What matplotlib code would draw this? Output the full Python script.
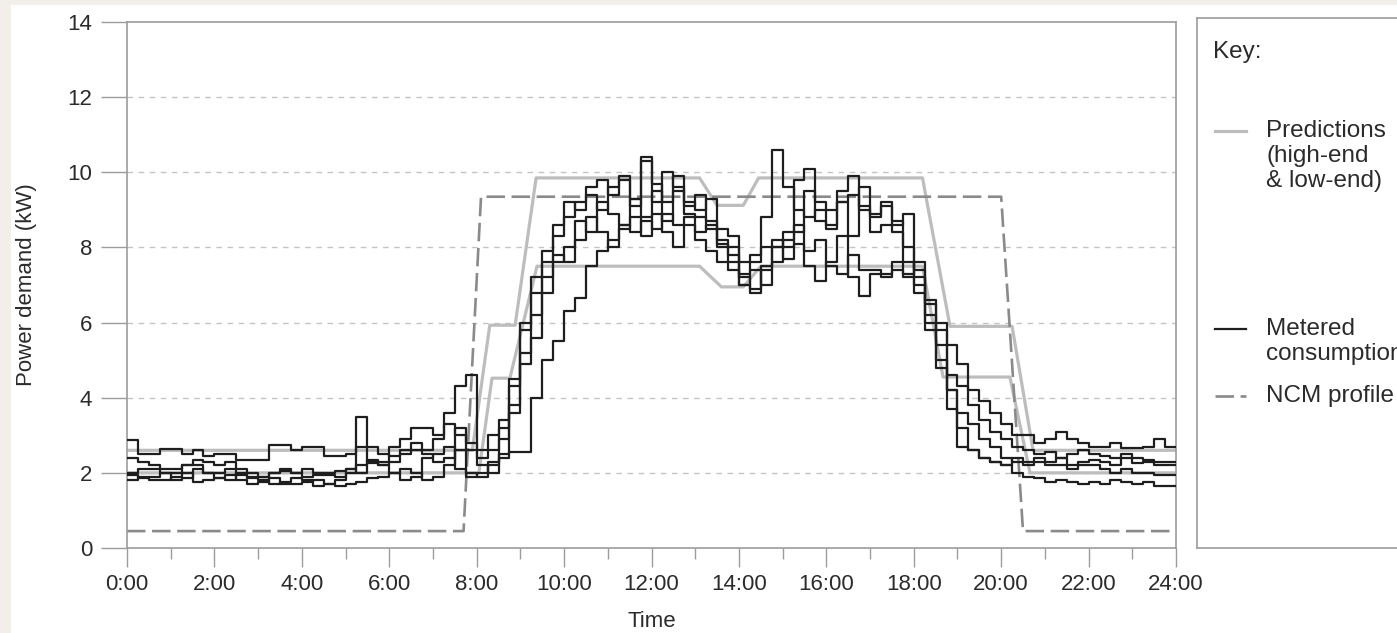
import numpy as np
import matplotlib
matplotlib.use("Agg")
import matplotlib.pyplot as plt
from matplotlib.patches import Rectangle

plt.rcParams['font.family'] = ['Liberation Sans', 'DejaVu Sans']

# ---------------- data ----------------
# metered consumption, 15-minute steps from 0:00 (4 values per hour)
metered_a = [2.87, 2.5, 2.5, 2.63, 2.63, 2.5, 2.6, 2.45, 2.5, 2.5, 2.34, 2.34,
             2.34, 2.74, 2.74, 2.6, 2.7, 2.7, 2.45, 2.45, 2.5, 2.7, 2.7, 2.5,
             2.45, 2.5, 2.6, 2.6, 2.9, 3.3, 3.0, 2.6, 2.4, 2.6, 3.2, 4.3,
             5.8, 6.8, 7.6, 8.3, 8.8, 9.2, 9.4, 9.0, 9.6, 9.8, 9.3, 10.4,
             9.7, 9.2, 9.5, 8.9, 8.8, 8.5, 8.1, 7.8, 7.3, 7.6, 8.8, 10.6,
             9.6, 9.0, 8.8, 9.0, 8.6, 9.2, 9.4, 9.0, 8.8, 9.1, 8.6, 8.9,
             7.2, 6.6, 6.0, 5.4, 4.9, 4.2, 3.9, 3.6, 3.3, 3.0, 3.0, 2.8,
             2.9, 3.1, 2.9, 2.8, 2.7, 2.7, 2.8, 2.65, 2.65, 2.7, 2.9, 2.7]
metered_b = [1.8, 1.9, 1.8, 1.8, 1.9, 2.0, 1.75, 1.8, 1.85, 1.95, 1.8, 1.7,
             1.75, 1.85, 1.7, 1.7, 1.75, 1.8, 1.7, 1.65, 1.7, 1.75, 1.85, 1.9,
             2.0, 2.1, 2.0, 1.8, 1.9, 2.2, 2.6, 1.9, 2.0, 2.3, 2.5, 2.55,
             2.55, 4.0, 5.0, 5.5, 6.3, 6.65, 7.5, 7.9, 8.2, 8.6, 8.4, 8.7,
             8.5, 8.9, 8.6, 8.8, 8.4, 8.6, 8.2, 8.0, 7.6, 7.8, 8.0, 8.0,
             7.7, 8.1, 7.9, 8.2, 7.5, 7.3, 7.8, 7.4, 7.4, 7.3, 7.4, 7.2,
             6.8, 5.8, 4.8, 4.2, 2.7, 2.6, 2.4, 2.3, 2.2, 2.0, 1.9, 1.85,
             1.75, 1.8, 1.75, 1.7, 1.75, 1.7, 1.8, 1.75, 1.7, 1.75, 1.65, 1.65]
metered_c = [2.0, 2.1, 2.1, 2.0, 2.0, 2.2, 2.2, 2.0, 2.0, 2.1, 1.95, 1.9,
             1.9, 2.0, 2.1, 2.0, 1.9, 1.95, 2.0, 2.05, 2.1, 2.0, 2.25, 2.3,
             2.7, 2.9, 3.2, 3.2, 3.0, 3.6, 4.3, 4.6, 2.6, 3.0, 3.4, 4.5,
             6.0, 7.2, 7.9, 8.6, 9.2, 9.0, 9.6, 9.8, 9.4, 9.9, 9.1, 10.3,
             9.2, 10.0, 9.6, 9.2, 9.0, 9.3, 8.0, 7.6, 7.2, 6.9, 7.5, 8.0,
             8.4, 9.8, 10.1, 9.2, 9.0, 9.5, 9.9, 9.1, 8.9, 9.2, 8.7, 8.0,
             7.0, 6.2, 5.4, 4.6, 4.3, 3.8, 3.4, 3.1, 2.9, 2.7, 2.6, 2.5,
             2.55, 2.4, 2.5, 2.6, 2.5, 2.45, 2.4, 2.5, 2.4, 2.35, 2.3, 2.3]
metered_d = [1.95, 1.85, 1.9, 2.0, 1.8, 1.85, 2.1, 2.0, 1.85, 1.8, 2.0, 1.85,
             1.8, 1.7, 1.75, 1.85, 1.8, 1.65, 1.7, 1.8, 2.1, 3.5, 2.3, 2.2,
             2.0, 1.8, 1.9, 2.4, 2.5, 2.7, 2.1, 2.0, 1.9, 2.2, 2.9, 3.8,
             5.2, 6.2, 6.8, 7.6, 8.0, 8.7, 8.4, 9.2, 8.9, 8.6, 9.3, 8.8,
             9.5, 8.7, 9.9, 9.1, 9.4, 8.7, 8.5, 8.3, 7.0, 7.4, 7.0, 8.2,
             8.0, 8.4, 9.5, 8.7, 8.5, 9.2, 8.3, 9.6, 8.4, 8.6, 8.4, 7.6,
             7.4, 6.5, 5.8, 4.2, 3.6, 3.3, 2.9, 2.7, 2.4, 2.3, 2.2, 2.3,
             2.2, 2.2, 2.1, 2.2, 2.2, 2.1, 2.0, 2.1, 2.0, 2.0, 1.95, 1.95]
metered_e = [2.4, 2.3, 2.2, 2.1, 2.1, 2.2, 2.35, 2.3, 2.2, 2.3, 2.1, 2.0,
             1.9, 2.0, 2.05, 2.0, 2.1, 2.0, 1.95, 1.9, 2.0, 2.2, 2.35, 2.2,
             2.3, 2.6, 2.8, 2.5, 2.3, 2.4, 3.2, 2.8, 2.2, 2.0, 2.4, 3.6,
             4.9, 5.6, 7.2, 7.8, 7.6, 8.2, 8.8, 8.4, 8.0, 8.5, 8.8, 8.3,
             8.9, 8.4, 8.0, 8.6, 8.2, 7.9, 7.6, 7.4, 7.0, 6.8, 7.4, 7.6,
             8.2, 8.6, 7.5, 7.1, 7.6, 8.3, 7.2, 6.7, 7.3, 7.2, 7.6, 7.3,
             7.6, 6.0, 5.0, 3.7, 3.2, 2.6, 2.4, 2.3, 2.2, 2.4, 2.3, 2.4,
             2.3, 2.4, 2.2, 2.3, 2.35, 2.3, 2.2, 2.4, 2.25, 2.3, 2.2, 2.2]

# predictions (piecewise linear)
pred_high_t = [0, 7.9, 8.3, 8.88, 9.36, 13.1, 13.5, 14.1, 14.45, 18.2, 18.83, 20.25, 20.73, 24]
pred_high_v = [2.6, 2.6, 5.93, 5.93, 9.85, 9.85, 9.12, 9.12, 9.85, 9.85, 5.9, 5.9, 2.6, 2.6]
pred_low_t = [0, 8.05, 8.35, 8.76, 9.38, 13.1, 13.6, 14.1, 14.5, 18.2, 18.67, 20.2, 20.66, 24]
pred_low_v = [2.0, 2.0, 4.52, 4.52, 7.5, 7.5, 6.95, 6.95, 7.5, 7.5, 4.55, 4.55, 2.0, 2.0]

# NCM profile
ncm_t = [0, 7.7, 8.1, 20.0, 20.5, 24]
ncm_v = [0.45, 0.45, 9.35, 9.35, 0.45, 0.45]

x_ticks = list(range(0, 25, 2))
x_labels = ['0:00', '2:00', '4:00', '6:00', '8:00', '10:00', '12:00',
            '14:00', '16:00', '18:00', '20:00', '22:00', '24:00']
y_ticks = [0, 2, 4, 6, 8, 10, 12, 14]

# ---------------- figure ----------------
W, H = 1397, 633
fig = plt.figure(figsize=(W / 100, H / 100), dpi=100)
fig.patch.set_facecolor('#f2efea')
fig.patches.append(Rectangle((11 / W, 0), 1, 1 - 5 / H, transform=fig.transFigure,
                             facecolor='white', edgecolor='none', zorder=-10))

ax = fig.add_axes([127 / W, 85 / H, 1049 / W, 526 / H])
ax.set_facecolor('white')

spine_col = '#9c9c9c'
txt_col = '#2b2b2b'

for yv in y_ticks[1:-1]:
    ax.axhline(yv, color='#c4c4c4', lw=1.0, ls=(0, (4, 4)), zorder=0)

ax.plot(pred_high_t, pred_high_v, color='#bdbdbd', lw=2.3, zorder=2)
ax.plot(pred_low_t, pred_low_v, color='#bdbdbd', lw=2.3, zorder=2)
ax.plot(ncm_t, ncm_v, color='#8a8a8a', lw=1.9, dashes=(7, 2.5), zorder=2)

t = np.arange(96) / 4.0
t_edges = np.append(t, 24.0)
for series in (metered_a, metered_b, metered_c, metered_d, metered_e):
    vals = np.append(series, series[-1])
    ax.step(t_edges, vals, where='post', color='#1e1e1e', lw=1.6, zorder=3)

ax.set_xlim(0, 24)
ax.set_ylim(0, 14)
ax.set_xticks(x_ticks)
ax.set_xticklabels(x_labels)
ax.set_xticks(list(range(1, 24, 2)), minor=True)
ax.set_yticks(y_ticks)

for s in ax.spines.values():
    s.set_color(spine_col)
    s.set_linewidth(1.2)

ax.tick_params(axis='x', which='major', direction='out', length=14, width=1.0,
               color=spine_col, labelsize=16, labelcolor=txt_col, pad=5)
ax.tick_params(axis='x', which='minor', direction='out', length=8, width=1.0,
               color=spine_col)
ax.tick_params(axis='y', which='major', direction='out', length=19, width=1.0,
               color=spine_col, labelsize=16, labelcolor=txt_col, pad=6)

ax.set_xlabel('Time', fontsize=16, color=txt_col, labelpad=11)
ax.set_ylabel('Power demand (kW)', fontsize=16, color=txt_col, labelpad=22)

# ---------------- key box ----------------
kx0, ky0, kx1, ky1 = 1197, 18, 1430, 548
lax = fig.add_axes([kx0 / W, (H - ky1) / H, (kx1 - kx0) / W, (ky1 - ky0) / H])
lax.set_xlim(kx0, kx1)
lax.set_ylim(ky1, ky0)
lax.set_xticks([])
lax.set_yticks([])
for s in lax.spines.values():
    s.set_color(spine_col)
    s.set_linewidth(1.2)

fs_key = 17.5
lax.text(1213, 52, 'Key:', fontsize=fs_key, color=txt_col, va='center', ha='left')
icon_x = [1215, 1246]
tx = 1266
lax.plot(icon_x, [131, 131], color='#bdbdbd', lw=2.3)
lax.text(tx, 131, 'Predictions', fontsize=fs_key, color=txt_col, va='center', ha='left')
lax.text(tx, 156, '(high-end', fontsize=fs_key, color=txt_col, va='center', ha='left')
lax.text(tx, 181, '& low-end)', fontsize=fs_key, color=txt_col, va='center', ha='left')
lax.plot(icon_x, [329, 329], color='#1e1e1e', lw=1.6)
lax.text(tx, 329, 'Metered', fontsize=fs_key, color=txt_col, va='center', ha='left')
lax.text(tx, 354, 'consumption', fontsize=fs_key, color=txt_col, va='center', ha='left')
lax.plot(icon_x, [396, 396], color='#8a8a8a', lw=1.9, dashes=(7, 2.5))
lax.text(tx, 396, 'NCM profile', fontsize=fs_key, color=txt_col, va='center', ha='left')

fig.savefig('out.png', dpi=100, facecolor=fig.get_facecolor())
